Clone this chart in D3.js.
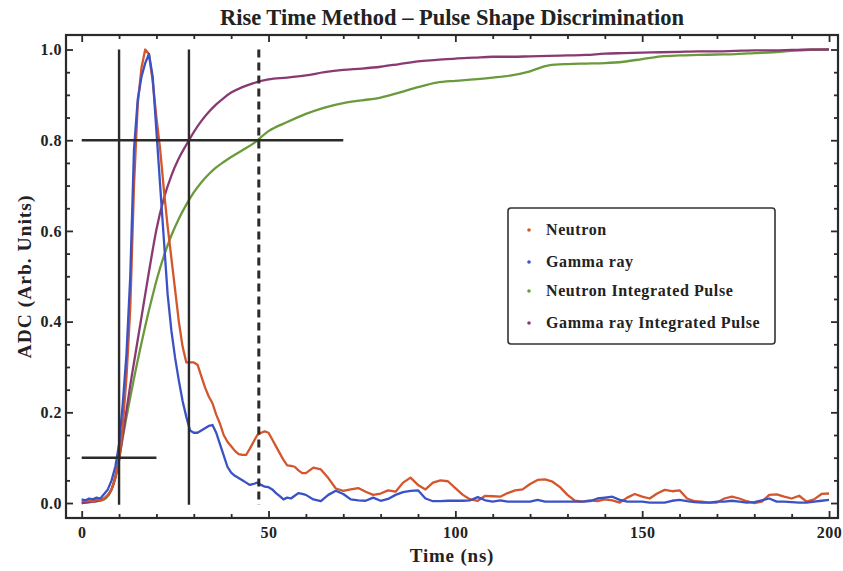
<!DOCTYPE html>
<html>
<head>
<meta charset="utf-8">
<script src="https://cdn.jsdelivr.net/npm/d3@7/dist/d3.min.js"></script>
<style>
  html, body { margin: 0; padding: 0; background: #fff; }
  svg text { font-family: "Liberation Serif", "Times New Roman", "DejaVu Serif", serif; font-weight: bold; fill: #222; }
</style>
</head>
<body>
<svg id="chart" width="843" height="571"></svg>
<script>
// ---------------- DATA ----------------
const titleText = "Rise Time Method \u2013 Pulse Shape Discrimination";
const xLabel = "Time (ns)";
const yLabel = "ADC (Arb. Units)";

const xMajorTicks = [0, 50, 100, 150, 200];
const yMajorTicks = [0.0, 0.2, 0.4, 0.6, 0.8, 1.0];

// Pulse sampling times (ns)
const pulseTime = [
  0,1,2,3,4,5,6,7,8,9,10,11,12,13,14,15,16,17,18,19,20,21,22,23,24,25,26,27,28,29,
  30,31,32,33,34,35,36,37,38,39,40,41,42,43,44,45,46,47,48,49,50,51,52,53,54,55,56,57,58,59,60,
  62,64,66,68,70,72,74,76,78,80,82,84,86,88,90,92,94,96,98,100,
  102,104,106,108,110,112,114,116,118,120,122,124,126,128,130,132,134,136,138,140,
  142,144,146,148,150,152,154,156,158,160,162,164,166,168,170,172,174,176,178,180,
  182,184,186,188,190,192,194,196,198,200
];

const neutron = [
  0.005,0.004,0.006,0.003,0.008,0.006,0.010,0.018,0.030,0.055,0.095,0.170,0.280,0.430,0.700,0.880,0.960,1.000,0.990,0.930,
  0.850,0.780,0.690,0.610,0.540,0.470,0.400,0.345,0.310,0.310,
  0.310,0.305,0.280,0.255,0.235,0.220,0.195,0.175,0.150,0.135,0.125,0.115,0.108,0.106,0.106,0.120,0.135,0.150,0.155,0.158,
  0.155,0.140,0.125,0.110,0.095,0.083,0.082,0.080,0.072,0.066,0.066,
  0.078,0.074,0.055,0.032,0.027,0.030,0.033,0.025,0.018,0.021,0.028,0.025,0.045,0.056,0.040,0.030,0.045,0.050,0.048,0.033,
  0.018,0.008,0.005,0.016,0.015,0.014,0.022,0.028,0.030,0.042,0.051,0.052,0.047,0.035,0.018,0.005,0.003,0.006,0.004,0.008,
  0.006,0.001,0.012,0.020,0.014,0.010,0.021,0.029,0.026,0.028,0.010,0.004,0.003,0.001,0.001,0.010,0.014,0.010,0.004,0.000,
  0.003,0.018,0.019,0.014,0.010,0.016,0.003,0.008,0.020,0.021
];

const gammaRay = [
  0.008,0.006,0.010,0.008,0.012,0.010,0.020,0.030,0.050,0.080,0.130,0.220,0.330,0.500,0.780,0.890,0.940,0.970,0.990,0.940,
  0.820,0.700,0.580,0.460,0.380,0.320,0.270,0.225,0.190,0.160,
  0.155,0.155,0.160,0.165,0.170,0.172,0.155,0.130,0.105,0.080,0.067,0.060,0.055,0.050,0.045,0.040,0.042,0.045,0.040,0.036,
  0.035,0.030,0.022,0.015,0.008,0.012,0.010,0.016,0.022,0.020,0.018,
  0.008,0.004,0.018,0.027,0.020,0.008,0.006,0.005,0.012,0.005,0.009,0.018,0.024,0.027,0.028,0.010,0.004,0.004,0.005,0.005,
  0.005,0.006,0.013,0.006,0.003,0.006,0.003,0.003,0.003,0.003,0.007,0.003,0.003,0.003,0.003,0.003,0.003,0.004,0.010,0.012,
  0.014,0.007,0.003,0.003,0.003,0.001,0.001,0.001,0.005,0.007,0.004,0.002,0.001,0.001,0.003,0.003,0.005,0.003,0.001,0.002,
  0.006,0.010,0.003,0.003,0.002,0.001,0.001,0.003,0.005,0.007
];

// Integrated pulse sampling times (ns)
const intTime = [
  0,2,4,6,8,9,10,11,12,13,14,15,16,17,18,19,20,22,24,26,28,30,32,34,36,38,40,43,46,50,
  55,60,65,70,75,80,85,90,95,100,105,110,115,120,125,130,135,140,145,150,155,160,165,170,175,180,185,190,195,200
];

const neutronIntegrated = [
  0.000,0.002,0.004,0.008,0.030,0.060,0.100,0.145,0.190,0.233,0.275,0.315,0.353,0.390,0.425,0.458,0.490,0.545,0.590,0.627,
  0.658,0.685,0.707,0.725,0.740,0.752,0.763,0.778,0.793,0.820,
  0.840,0.858,0.872,0.882,0.888,0.894,0.905,0.917,0.927,0.931,0.934,0.938,0.943,0.952,0.965,0.968,0.969,0.970,0.973,0.979,
  0.985,0.987,0.988,0.989,0.990,0.992,0.994,0.997,0.999,1.000
];

const gammaIntegrated = [
  0.000,0.002,0.004,0.010,0.030,0.055,0.095,0.150,0.205,0.260,0.310,0.360,0.410,0.460,0.510,0.558,0.603,0.672,0.722,0.760,
  0.790,0.818,0.842,0.862,0.879,0.893,0.905,0.917,0.926,0.934,
  0.938,0.943,0.950,0.955,0.958,0.962,0.968,0.974,0.977,0.980,0.982,0.984,0.984,0.985,0.986,0.987,0.988,0.991,0.992,0.993,
  0.994,0.995,0.996,0.996,0.997,0.998,0.998,0.999,1.000,1.000
];

// Reference (rise-time) markers
const vMarkerTimes = [10, 28.7, 47.4];
const vMarkerDashed = [false, false, true];
const hMarkerLevels = [0.8, 0.1];
const hMarkerEnds = [70, 20];

const legendLabels = ["Neutron", "Gamma ray", "Neutron Integrated Pulse", "Gamma ray Integrated Pulse"];
const seriesColors = ["#d4562c", "#3a52c6", "#6b9a3c", "#8a3a72"];

// ---------------- DRAW ----------------
const svg = d3.select("#chart");
const frame = { left: 66, right: 838, top: 35, bottom: 518 };

const x = d3.scaleLinear().domain([-4.2, 202.4]).range([frame.left, frame.right]);
const y = d3.scaleLinear().domain([-0.033, 1.032]).range([frame.bottom, frame.top]);

const frameColor = "#2a2a2a";

svg.append("defs").append("clipPath").attr("id", "clip")
  .append("rect").attr("x", frame.left).attr("y", frame.top)
  .attr("width", frame.right - frame.left).attr("height", frame.bottom - frame.top);

const plot = svg.append("g").attr("clip-path", "url(#clip)");

const seriesList = [
  { t: pulseTime, v: neutron, c: seriesColors[0] },
  { t: pulseTime, v: gammaRay, c: seriesColors[1] },
  { t: intTime, v: neutronIntegrated, c: seriesColors[2] },
  { t: intTime, v: gammaIntegrated, c: seriesColors[3] }
];

const lineGen = d3.line().x(d => x(d[0])).y(d => y(d[1]));
const smoothGen = d3.line().x(d => x(d[0])).y(d => y(d[1])).curve(d3.curveMonotoneX);

[2, 3, 0, 1].forEach(i => {
  const s = seriesList[i];
  const pts = s.t.map((t, k) => [t, s.v[k]]);
  plot.append("path")
    .attr("d", (i >= 2 ? smoothGen : lineGen)(pts))
    .attr("fill", "none")
    .attr("stroke", s.c)
    .attr("stroke-width", 2.3)
    .attr("stroke-linejoin", "round");
});

// Marker lines
vMarkerTimes.forEach((t, i) => {
  svg.append("line")
    .attr("x1", x(t)).attr("x2", x(t))
    .attr("y1", y(1.0)).attr("y2", y(-0.004))
    .attr("stroke", "#2b2b2b")
    .attr("stroke-width", vMarkerDashed[i] ? 3 : 2.4)
    .attr("stroke-dasharray", vMarkerDashed[i] ? "8,5" : null);
});
hMarkerLevels.forEach((lv, i) => {
  svg.append("line")
    .attr("x1", x(0)).attr("x2", x(hMarkerEnds[i]))
    .attr("y1", y(lv)).attr("y2", y(lv))
    .attr("stroke", "#2b2b2b")
    .attr("stroke-width", 2.4);
});

// Frame
svg.append("rect")
  .attr("x", frame.left).attr("y", frame.top)
  .attr("width", frame.right - frame.left).attr("height", frame.bottom - frame.top)
  .attr("fill", "none").attr("stroke", frameColor).attr("stroke-width", 2.2);

const xMinor = d3.range(0, 201, 10).filter(v => v % 50 !== 0);
const yMinor = d3.range(0, 21).map(k => k * 0.05).filter((v, k) => k % 4 !== 0);

function styleAxis(g) {
  g.select(".domain").remove();
  g.selectAll(".tick line").attr("stroke", frameColor).attr("stroke-width", 1.8);
  g.selectAll("text").style("font-size", "16px").attr("fill", "#222").attr("letter-spacing", "0.5px");
}

svg.append("g").attr("transform", `translate(0,${frame.bottom})`)
  .call(d3.axisBottom(x).tickValues(xMajorTicks).tickSize(-7).tickPadding(9).tickFormat(d3.format("d")))
  .call(styleAxis);
svg.append("g").attr("transform", `translate(0,${frame.bottom})`)
  .call(d3.axisBottom(x).tickValues(xMinor).tickSize(-4).tickFormat(""))
  .call(styleAxis);
svg.append("g").attr("transform", `translate(0,${frame.top})`)
  .call(d3.axisTop(x).tickValues(xMajorTicks).tickSize(-7).tickFormat(""))
  .call(styleAxis);
svg.append("g").attr("transform", `translate(0,${frame.top})`)
  .call(d3.axisTop(x).tickValues(xMinor).tickSize(-4).tickFormat(""))
  .call(styleAxis);

svg.append("g").attr("transform", `translate(${frame.left},0)`)
  .call(d3.axisLeft(y).tickValues(yMajorTicks).tickSize(-7).tickPadding(4).tickFormat(d3.format(".1f")))
  .call(styleAxis);
svg.append("g").attr("transform", `translate(${frame.left},0)`)
  .call(d3.axisLeft(y).tickValues(yMinor).tickSize(-4).tickFormat(""))
  .call(styleAxis);
svg.append("g").attr("transform", `translate(${frame.right},0)`)
  .call(d3.axisRight(y).tickValues(yMajorTicks).tickSize(-7).tickFormat(""))
  .call(styleAxis);
svg.append("g").attr("transform", `translate(${frame.right},0)`)
  .call(d3.axisRight(y).tickValues(yMinor).tickSize(-4).tickFormat(""))
  .call(styleAxis);

// Title and axis labels
svg.append("text").attr("x", 452).attr("y", 25)
  .attr("text-anchor", "middle").style("font-size", "22.5px").text(titleText);
svg.append("text").attr("x", 452).attr("y", 562)
  .attr("text-anchor", "middle").style("font-size", "19px").attr("letter-spacing", "0.8px").text(xLabel);
svg.append("text").attr("transform", `translate(31,${(frame.top + frame.bottom) / 2}) rotate(-90)`)
  .attr("text-anchor", "middle").style("font-size", "19.5px").attr("letter-spacing", "1px").text(yLabel);

// Legend
const legend = svg.append("g").attr("transform", "translate(508,208)");
legend.append("rect").attr("width", 267).attr("height", 136).attr("rx", 3)
  .attr("fill", "#fff").attr("stroke", "#333").attr("stroke-width", 1.6);
const legendY = [22, 54, 83, 115];
legendLabels.forEach((lab, i) => {
  legend.append("circle").attr("cx", 21).attr("cy", legendY[i]).attr("r", 1.8).attr("fill", seriesColors[i]);
  legend.append("text").attr("x", 38).attr("y", legendY[i] + 5)
    .style("font-size", "16px").attr("letter-spacing", "0.6px").text(lab);
});
</script>
</body>
</html>
